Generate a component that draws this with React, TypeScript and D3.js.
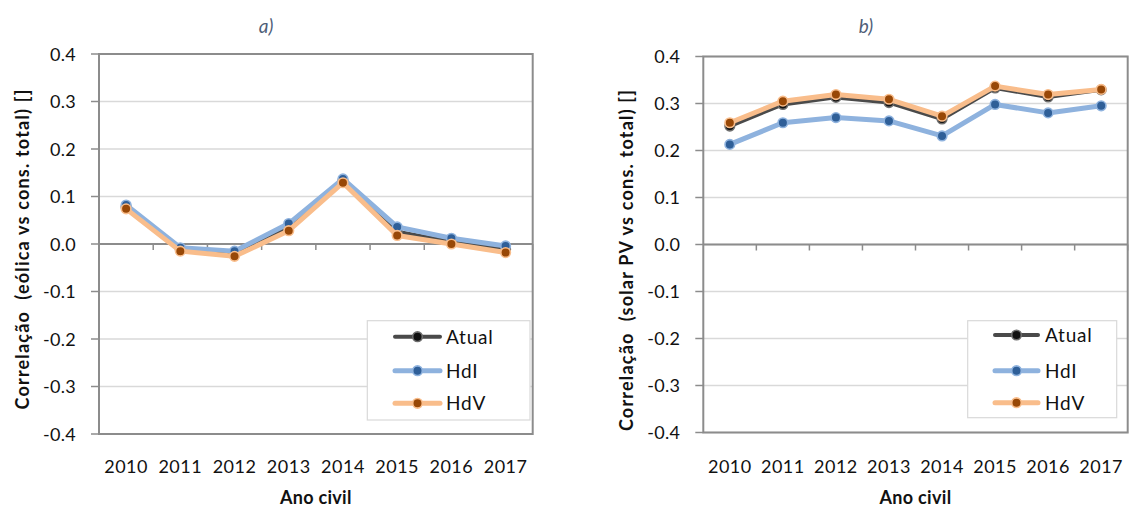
import React from "react";
import * as d3 from "d3";

// Categories and axis ticks
const years = ["2010", "2011", "2012", "2013", "2014", "2015", "2016", "2017"];
const yTicks = [0.4, 0.3, 0.2, 0.1, 0.0, -0.1, -0.2, -0.3, -0.4];

// a) wind vs total consumption
const eolicaAtual = [0.078, -0.012, -0.02, 0.036, 0.133, 0.026, 0.005, -0.011];
const eolicaHdI = [0.082, -0.008, -0.015, 0.043, 0.137, 0.036, 0.012, -0.004];
const eolicaHdV = [0.074, -0.015, -0.026, 0.028, 0.129, 0.018, 0.0, -0.018];

// b) solar PV vs total consumption
const solarAtual = [0.252, 0.298, 0.313, 0.302, 0.267, 0.333, 0.314, 0.329];
const solarHdI = [0.213, 0.259, 0.27, 0.263, 0.231, 0.298, 0.28, 0.295];
const solarHdV = [0.259, 0.305, 0.319, 0.309, 0.273, 0.337, 0.319, 0.33];

const seriesNames = ["Atual", "HdI", "HdV"];

type Style = { line: string; width: number; fill: string; stroke: string };
const styles: Style[] = [
  { line: "#4a4a4a", width: 4, fill: "#111111", stroke: "#6e6e6e" },
  { line: "#8eb2de", width: 5, fill: "#2f5f98", stroke: "#8eb2de" },
  { line: "#f9bd8b", width: 5, fill: "#984807", stroke: "#f9bd8b" },
];

const FONT = "Lato, 'Open Sans', sans-serif";

type PanelProps = {
  title: string;
  titleX: number;
  yTitle: string;
  yTitleX: number;
  yTitleY: number;
  x0: number;
  x1: number;
  yTop: number;
  yBottom: number;
  series: number[][];
  legend: { x: number; y: number; w: number; h: number; lineX0: number; lineX1: number; textX: number; rows: number[] };
};

function Panel(p: PanelProps) {
  const x = d3.scaleBand<string>().domain(years).range([p.x0, p.x1]).padding(0);
  const y = d3.scaleLinear().domain([-0.4, 0.4]).range([p.yBottom, p.yTop]);
  const cx = (yr: string) => (x(yr) as number) + x.bandwidth() / 2;
  const line = d3
    .line<number>()
    .x((_, i) => cx(years[i]))
    .y((v) => y(v));
  const y0 = y(0);

  return (
    <g>
      <text x={p.titleX} y={33} textAnchor="middle" fontFamily={FONT} fontStyle="italic" fontSize={19} fill="#4f5e78">
        {p.title}
      </text>

      {/* horizontal gridlines */}
      {yTicks.map((t) => (
        <line key={"g" + t} x1={p.x0} x2={p.x1} y1={y(t)} y2={y(t)} stroke="#d9d9d9" strokeWidth={1.5} />
      ))}

      {/* plot frame */}
      <rect x={p.x0} y={p.yTop} width={p.x1 - p.x0} height={p.yBottom - p.yTop} fill="none" stroke="#8c8c8c" strokeWidth={2} />

      {/* y axis ticks and labels */}
      {yTicks.map((t) => (
        <g key={"t" + t}>
          <line x1={p.x0 - 8} x2={p.x0} y1={y(t)} y2={y(t)} stroke="#8c8c8c" strokeWidth={1.5} />
          <text x={p.x0 - 23} y={y(t) + 6.5} textAnchor="end" fontFamily={FONT} fontSize={18} letterSpacing={0.3} fill="#111">
            {t.toFixed(1)}
          </text>
        </g>
      ))}

      {/* category axis at zero */}
      <line x1={p.x0} x2={p.x1} y1={y0} y2={y0} stroke="#8c8c8c" strokeWidth={2} />
      {years.map((yr) => (
        <line key={"xt" + yr} x1={(x(yr) as number) + x.bandwidth()} x2={(x(yr) as number) + x.bandwidth()} y1={y0} y2={y0 + 6} stroke="#8c8c8c" strokeWidth={1.5} />
      ))}
      {years.map((yr) => (
        <text key={"xl" + yr} x={cx(yr)} y={473} textAnchor="middle" fontFamily={FONT} fontSize={18} letterSpacing={0.5} fill="#111">
          {yr}
        </text>
      ))}

      {/* series */}
      {p.series.map((vals, si) => (
        <g key={"s" + si}>
          <path d={line(vals) || ""} fill="none" stroke={styles[si].line} strokeWidth={styles[si].width} strokeLinejoin="round" />
          {vals.map((v, i) => (
            <circle key={i} cx={cx(years[i])} cy={y(v)} r={4.8} fill={styles[si].fill} stroke={styles[si].stroke} strokeWidth={1.6} />
          ))}
        </g>
      ))}

      {/* axis titles */}
      <text x={(p.x0 + p.x1) / 2} y={504} textAnchor="middle" fontFamily={FONT} fontWeight="bold" fontSize={18} letterSpacing={0.3} fill="#111">
        Ano civil
      </text>
      <text
        transform={`translate(${p.yTitleX},${p.yTitleY}) rotate(-90)`}
        textAnchor="middle"
        fontFamily={FONT}
        fontWeight="bold"
        fontSize={18}
        letterSpacing={1.2}
        fill="#111"
        style={{ whiteSpace: "pre" }}
      >
        {p.yTitle}
      </text>

      {/* legend */}
      <rect x={p.legend.x} y={p.legend.y} width={p.legend.w} height={p.legend.h} fill="#fff" stroke="#d9d9d9" strokeWidth={1.2} />
      {seriesNames.map((name, si) => {
        const ry = p.legend.rows[si];
        const mx = (p.legend.lineX0 + p.legend.lineX1) / 2;
        return (
          <g key={"lg" + name}>
            <line x1={p.legend.lineX0} x2={p.legend.lineX1} y1={ry} y2={ry} stroke={styles[si].line} strokeWidth={styles[si].width} strokeLinecap="round" />
            <circle cx={mx} cy={ry} r={4.8} fill={styles[si].fill} stroke={styles[si].stroke} strokeWidth={1.6} />
            <text x={p.legend.textX} y={ry + 7} fontFamily={FONT} fontSize={19} letterSpacing={0.8} fill="#111">
              {name}
            </text>
          </g>
        );
      })}
    </g>
  );
}

export default function App() {
  return (
    <svg width={1133} height={507} style={{ position: "absolute", left: 0, top: 0, background: "#fff" }}>
      <Panel
        title="a)"
        titleX={266}
        yTitle={"Correlação  (eólica vs cons. total) []"}
        yTitleX={29}
        yTitleY={249}
        x0={99}
        x1={532.7}
        yTop={54}
        yBottom={434}
        series={[eolicaAtual, eolicaHdI, eolicaHdV]}
        legend={{ x: 367.3, y: 320.7, w: 162.7, h: 99.3, lineX0: 395, lineX1: 440, textX: 446, rows: [336.7, 370.7, 403.3] }}
      />
      <Panel
        title="b)"
        titleX={866}
        yTitle={"Correlação  (solar PV vs cons. total) []"}
        yTitleX={633}
        yTitleY={260}
        x0={703.3}
        x1={1127.7}
        yTop={56.5}
        yBottom={432.5}
        series={[solarAtual, solarHdI, solarHdV]}
        legend={{ x: 967.7, y: 320.7, w: 149, h: 97, lineX0: 995, lineX1: 1038, textX: 1045, rows: [335, 370.7, 402.7] }}
      />
    </svg>
  );
}
